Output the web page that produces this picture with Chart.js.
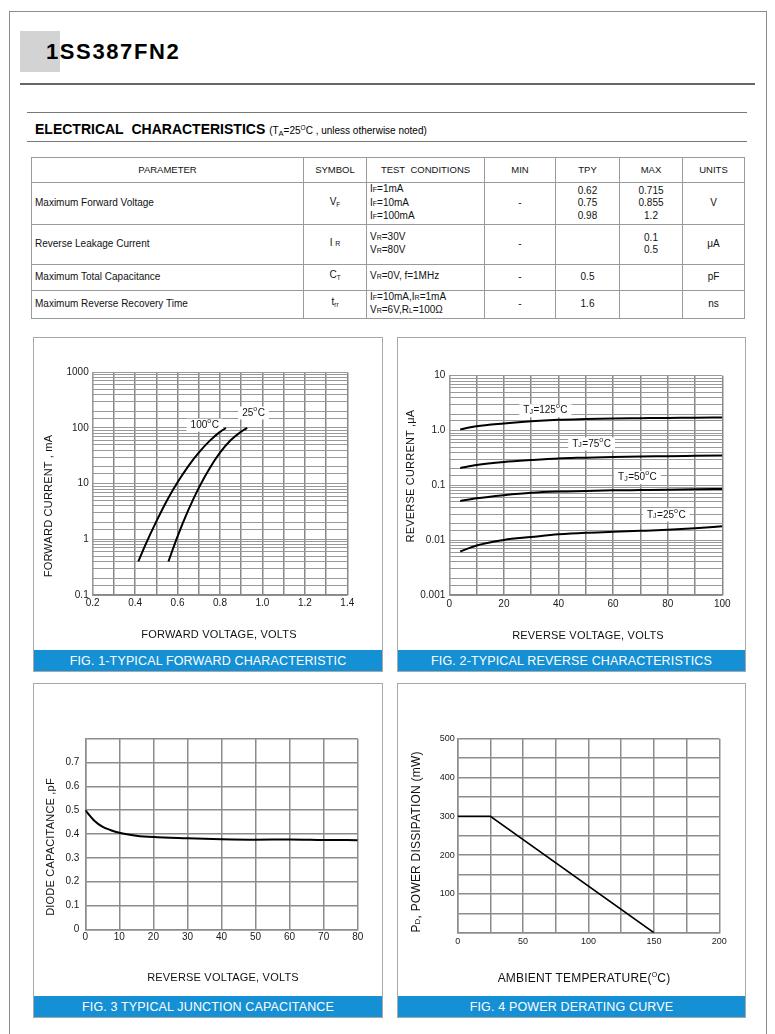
<!DOCTYPE html>
<html><head><meta charset="utf-8">
<script src="https://cdn.jsdelivr.net/npm/chart.js@4.4.1/dist/chart.umd.min.js"></script>
<style>
html,body{margin:0;padding:0;background:#fff}
body{width:775px;height:1034px;position:relative;overflow:hidden;font-family:"Liberation Sans",Arial,sans-serif;color:#111}
.a{position:absolute}
.hl{position:absolute;height:1px;background:#777}
.panel{position:absolute;border:1px solid #a8a8a8;box-sizing:border-box;background:#fff}
.cap{position:absolute;left:0;right:0;bottom:0;height:21px;line-height:22px;background:#1590d4;color:#fff;text-align:center;font-size:12.5px;letter-spacing:0.15px;white-space:nowrap}
canvas{position:absolute}
.t{position:absolute;white-space:nowrap;font-size:11px;color:#111;letter-spacing:0.2px}
.rot{transform:translate(-50%,-50%) rotate(-90deg)}
.ctr{transform:translate(-50%,-50%)}
table{border-collapse:collapse;table-layout:fixed;font-size:10px;color:#111}
td{border:1px solid #9a9a9a;padding:0;vertical-align:middle;text-align:center;line-height:12.5px}
td.l{text-align:left;padding-left:3px}
.s{font-size:7px}
sub{font-size:6.5px;vertical-align:-2px}
</style></head><body>

<!-- page frame & header -->
<div class="a" style="left:9px;top:11px;width:758px;height:1040px;border:1px solid #8c8c8c;box-sizing:border-box"></div>
<div class="a" style="left:20px;top:31px;width:40px;height:41px;background:#d3d3d3"></div>
<div class="a" style="left:46px;top:41px;font-size:22px;line-height:22px;font-weight:bold;letter-spacing:1.6px;color:#000">1SS387FN2</div>
<div class="hl" style="left:20px;top:83px;width:735px;height:1.5px;background:#666"></div>
<div class="hl" style="left:27px;top:112px;width:720px;background:#777"></div>
<div class="a" style="left:35px;top:121px;font-size:14px;line-height:14px;font-weight:bold;color:#000;white-space:nowrap">ELECTRICAL&nbsp; CHARACTERISTICS <span style="font-size:10px;font-weight:normal">(T<sub style="font-size:7.5px">A</sub>=25<sup style="font-size:6.5px">O</sup>C , unless otherwise noted)</span></div>
<div class="hl" style="left:27px;top:141px;width:720px;background:#777"></div>

<!-- table -->
<div class="a" style="left:31px;top:157px">
<table style="width:713px">
<colgroup><col style="width:272px"><col style="width:63px"><col style="width:118px"><col style="width:71px"><col style="width:64px"><col style="width:63px"><col style="width:62px"></colgroup>
<tr style="height:25px;font-size:9.5px"><td>PARAMETER</td><td>SYMBOL</td><td>TEST&nbsp; CONDITIONS</td><td>MIN</td><td>TPY</td><td>MAX</td><td>UNITS</td></tr>
<tr style="height:40px"><td class="l">Maximum Forward Voltage</td><td>V<sub>F</sub></td><td class="l">I<span class="s">F</span>=1mA<br>I<span class="s">F</span>=10mA<br>I<span class="s">F</span>=100mA</td><td>-</td><td>0.62<br>0.75<br>0.98</td><td>0.715<br>0.855<br>1.2</td><td>V</td></tr>
<tr style="height:40px"><td class="l">Reverse Leakage Current</td><td>I <span class="s">R</span></td><td class="l">V<span class="s">R</span>=30V<br>V<span class="s">R</span>=80V</td><td>-</td><td></td><td>0.1<br>0.5</td><td>μA</td></tr>
<tr style="height:26px"><td class="l">Maximum Total Capacitance</td><td>C<sub>T</sub></td><td class="l">V<span class="s">R</span>=0V, f=1MHz</td><td>-</td><td>0.5</td><td></td><td>pF</td></tr>
<tr style="height:26px"><td class="l">Maximum Reverse Recovery Time</td><td>t<sub>rr</sub></td><td class="l">I<span class="s">F</span>=10mA,I<span class="s">R</span>=1mA<br>V<span class="s">R</span>=6V,R<span class="s">L</span>=100Ω</td><td>-</td><td>1.6</td><td></td><td>ns</td></tr>
</table></div>

<!-- panels -->
<div class="panel" style="left:33px;top:337px;width:350px;height:335px"><div class="cap">FIG. 1-TYPICAL FORWARD CHARACTERISTIC</div></div>
<div class="panel" style="left:397px;top:337px;width:349px;height:335px"><div class="cap">FIG. 2-TYPICAL REVERSE CHARACTERISTICS</div></div>
<div class="panel" style="left:33px;top:683px;width:350px;height:335px"><div class="cap">FIG. 3 TYPICAL JUNCTION CAPACITANCE</div></div>
<div class="panel" style="left:397px;top:683px;width:349px;height:335px"><div class="cap">FIG. 4 POWER DERATING CURVE</div></div>

<canvas id="c1" width="348" height="312" style="left:34px;top:338px"></canvas>
<canvas id="c2" width="347" height="312" style="left:398px;top:338px"></canvas>
<canvas id="c3" width="348" height="312" style="left:34px;top:684px"></canvas>
<canvas id="c4" width="347" height="312" style="left:398px;top:684px"></canvas>

<!-- axis titles -->
<div class="t rot" style="left:48px;top:506px">FORWARD CURRENT , mA</div>
<div class="t ctr" style="left:219px;top:634px">FORWARD VOLTAGE, VOLTS</div>
<div class="t rot" style="left:410px;top:476px">REVERSE CURRENT ,μA</div>
<div class="t ctr" style="left:588px;top:635px">REVERSE VOLTAGE, VOLTS</div>
<div class="t rot" style="left:50px;top:847px">DIODE CAPACITANCE ,pF</div>
<div class="t ctr" style="left:223px;top:977px">REVERSE VOLTAGE, VOLTS</div>
<div class="t rot" style="left:416px;top:842px;font-size:12px">P<span style="font-size:8px">D</span>, POWER DISSIPATION (mW)</div>
<div class="t ctr" style="left:584px;top:978px;font-size:12px">AMBIENT TEMPERATURE(<sup style="font-size:7px">O</sup>C)</div>

<script>
// ---------------- DATA ----------------
// Fig.1 forward characteristic (V, mA)
const fig1VoltsT100   = [0.415, 0.45, 0.50, 0.55, 0.60, 0.65, 0.70, 0.75, 0.80, 0.828];
const fig1CurrentT100 = [0.4,   0.82, 2.1,  5.0,  10.6, 20.5, 36,   58,   85,   100];
const fig1VoltsT25    = [0.557, 0.60, 0.65, 0.70, 0.75, 0.80, 0.85, 0.90, 0.928];
const fig1CurrentT25  = [0.4,   1.13, 3.3,  8.4,  18.6, 36,   60,   86,   100];
const fig1XTickLabels = ['0.2','0.4','0.6','0.8','1.0','1.2','1.4'];
const fig1YTickLabels = ['0.1','1','10','100','1000'];

// Fig.2 reverse characteristics (V, uA)
const fig2Volts   = [4, 10, 20, 30, 40, 50, 60, 70, 80, 90, 100];
const fig2IrT125  = [1.05, 1.20, 1.35, 1.48, 1.57, 1.62, 1.66, 1.68, 1.70, 1.71, 1.73];
const fig2IrT75   = [0.207, 0.235, 0.267, 0.290, 0.310, 0.320, 0.330, 0.336, 0.340, 0.345, 0.350];
const fig2IrT50   = [0.052, 0.058, 0.066, 0.073, 0.077, 0.079, 0.081, 0.082, 0.083, 0.085, 0.086];
const fig2IrT25   = [0.0062, 0.0080, 0.0101, 0.0114, 0.0128, 0.0137, 0.0142, 0.0148, 0.0155, 0.0165, 0.0179];
const fig2XTickLabels = ['0','20','40','60','80','100'];
const fig2YTickLabels = ['0.001','0.01','0.1','1.0','10'];

// Fig.3 junction capacitance (V, pF)
const fig3Volts = [0, 2.5, 5, 7.5, 10, 15, 20, 30, 40, 50, 60, 70, 80];
const fig3Cap   = [0.5, 0.458, 0.431, 0.416, 0.405, 0.393, 0.387, 0.382, 0.378, 0.376, 0.377, 0.375, 0.374];
const fig3XTickLabels = ['0','10','20','30','40','50','60','70','80'];
const fig3YTickLabels = ['0','0.1','0.2','0.3','0.4','0.5','0.6','0.7'];

// Fig.4 power derating (degC, mW)
const fig4Temp  = [0, 25, 150];
const fig4Power = [300, 300, 0];
const fig4XTickLabels = ['0','50','100','150','200'];
const fig4YTickLabels = ['100','200','300','400','500'];

// log-paper grid significands per decade
const logGridSignificands = [1, 1.5, 2, 3, 4, 5, 6, 7, 8, 9];

// curve labels (data coordinates)
const fig1CurveLabels = [
  {parts:['100',{sup:'o'},'C'], x:0.728, y:112},
  {parts:['25',{sup:'o'},'C'],  x:0.958, y:186}
];
const fig2CurveLabels = [
  {parts:['T',{sub:'J'},'=125',{sup:'o'},'C'], x:35.2, y:2.3},
  {parts:['T',{sub:'J'},'=75',{sup:'o'},'C'],  x:52.1, y:0.57},
  {parts:['T',{sub:'J'},'=50',{sup:'o'},'C'],  x:68.9, y:0.138},
  {parts:['T',{sub:'J'},'=25',{sup:'o'},'C'],  x:79.5, y:0.0288}
];

// ---------------- HELPERS ----------------
const FONT = '"Liberation Sans", Arial, sans-serif';
function pts(xs, ys){ return xs.map((v,i)=>({x:v, y:ys[i]})); }
function logGrid(min, max){
  const out=[];
  for(let e=Math.round(Math.log10(min)); e<Math.round(Math.log10(max)); e++){
    logGridSignificands.forEach(s=>out.push(+(s*Math.pow(10,e)).toPrecision(6)));
  }
  out.push(max);
  return out;
}
function labelFor(list, value){
  const hit = list.find(l => Math.abs(parseFloat(l) - value) < 1e-9*Math.max(1,Math.abs(value)) );
  return hit === undefined ? '' : hit;
}

const curveLabelPlugin = {
  id:'curveLabels',
  beforeDatasetsDraw(chart, args, opts){
    const items = opts.items || [];
    const ctx = chart.ctx, xs = chart.scales.x, ys = chart.scales.y;
    const big = opts.size || 10, small = Math.round(big*0.65);
    items.forEach(it=>{
      const cx = xs.getPixelForValue(it.x), cy = ys.getPixelForValue(it.y);
      let w = 0;
      const segs = it.parts.map(p=>{
        const isObj = typeof p === 'object';
        const txt = isObj ? (p.sup||p.sub) : p;
        const sz = isObj ? small : big;
        ctx.font = sz + 'px ' + FONT;
        const sw = ctx.measureText(txt).width;
        const seg = {txt, sz, w:sw, dy: isObj ? (p.sup ? -big*0.42 : big*0.12) : 0};
        w += sw + (isObj ? 0.5 : 0);
        return seg;
      });
      ctx.save();
      ctx.fillStyle = '#fff';
      ctx.fillRect(cx - w/2 - 4, cy - big*0.65, w + 8, big*1.3);
      ctx.fillStyle = '#111';
      ctx.textBaseline = 'middle';
      let x0 = cx - w/2;
      segs.forEach(s=>{
        ctx.font = s.sz + 'px ' + FONT;
        ctx.fillText(s.txt, x0, cy + s.dy);
        x0 += s.w + (s.sz===small ? 0.5 : 0);
      });
      ctx.restore();
    });
  }
};

// canvas box (page coords) + plot area (page coords)
function makeChart(id, box, plot, cfg){
  const YW = 40, XH = 22;
  const pad = {
    left: plot.l - box.l - YW,
    top: plot.t - box.t,
    right: box.l + box.w - plot.r,
    bottom: box.t + box.h - plot.b - XH
  };
  const tickFont = {family: FONT, size: cfg.tickSize || 10};
  const grid = (c, lw) => ({color:c, lineWidth:lw, drawTicks:false});
  return new Chart(document.getElementById(id), {
    type:'line',
    data:{datasets: cfg.datasets.map(d=>({
      data:d.data, borderColor:'#000', borderWidth:d.bw||2, pointRadius:0, fill:false,
      cubicInterpolationMode: d.straight ? 'default' : 'monotone', tension: d.straight ? 0 : 0.4
    }))},
    options:{
      responsive:false, animation:false, devicePixelRatio:1, events:[],
      layout:{padding:pad},
      plugins:{legend:{display:false}, tooltip:{enabled:false}, curveLabels:{items:cfg.labels||[], size:10}},
      scales:{
        x:{
          type:'linear', min:cfg.x.min, max:cfg.x.max,
          afterFit: s=>{ s.height = XH; },
          grid: grid(cfg.x.gridColor||'#8a8a8a', cfg.x.gridWidth||1.5),
          border:{display:true, color:cfg.x.gridColor||'#8a8a8a', width:cfg.x.gridWidth||1.5},
          ticks:{stepSize:cfg.x.step, autoSkip:false, maxRotation:0, padding:cfg.x.pad||2, color:'#1a1a1a', font:tickFont,
            callback:(v)=>labelFor(cfg.x.labels, v)}
        },
        y:{
          type: cfg.y.log ? 'logarithmic' : 'linear', min:cfg.y.min, max:cfg.y.max,
          afterFit: s=>{ s.width = YW; },
          afterBuildTicks: cfg.y.log ? (s=>{ s.ticks = logGrid(cfg.y.min, cfg.y.max).map(v=>({value:v})); }) : undefined,
          grid: grid(cfg.y.gridColor||'#8a8a8a', cfg.y.gridWidth||1.5),
          border:{display:true, color:cfg.y.gridColor||'#8a8a8a', width:cfg.y.gridWidth||1.5},
          ticks:{stepSize:cfg.y.step, autoSkip:false, padding:cfg.y.pad||4, color:'#1a1a1a', font:tickFont,
            callback:(v)=>labelFor(cfg.y.labels, v)}
        }
      }
    },
    plugins:[curveLabelPlugin]
  });
}

Chart.defaults.font.family = FONT;

makeChart('c1', {l:34,t:338,w:348,h:312}, {l:92.7,t:372.3,r:347.3,b:595}, {
  x:{min:0.2,max:1.4,step:0.1,labels:fig1XTickLabels,gridColor:'#888',gridWidth:1.5,pad:2},
  y:{log:true,min:0.1,max:1000,labels:fig1YTickLabels,gridColor:'#999',gridWidth:1,pad:4},
  datasets:[{data:pts(fig1VoltsT100,fig1CurrentT100)},{data:pts(fig1VoltsT25,fig1CurrentT25)}],
  labels:fig1CurveLabels
});
makeChart('c2', {l:398,t:338,w:347,h:312}, {l:449.3,t:375.7,r:722.3,b:595}, {
  x:{min:0,max:100,step:10,labels:fig2XTickLabels,gridColor:'#888',gridWidth:1.5,pad:3},
  y:{log:true,min:0.001,max:10,labels:fig2YTickLabels,gridColor:'#999',gridWidth:1,pad:4},
  datasets:[{data:pts(fig2Volts,fig2IrT125)},{data:pts(fig2Volts,fig2IrT75)},{data:pts(fig2Volts,fig2IrT50)},{data:pts(fig2Volts,fig2IrT25)}],
  labels:fig2CurveLabels
});
makeChart('c3', {l:34,t:684,w:348,h:312}, {l:85.3,t:738.7,r:357.7,b:929.3}, {
  x:{min:0,max:80,step:10,labels:fig3XTickLabels,gridColor:'#8c8c8c',gridWidth:1.5,pad:2},
  y:{min:0,max:0.8,step:0.1,labels:fig3YTickLabels,gridColor:'#8c8c8c',gridWidth:1.5,pad:6},
  datasets:[{data:pts(fig3Volts,fig3Cap)}]
});
makeChart('c4', {l:398,t:684,w:347,h:312}, {l:457.7,t:738.7,r:719.3,b:932.7}, {
  tickSize:9,
  x:{min:0,max:200,step:25,labels:fig4XTickLabels,gridColor:'#8c8c8c',gridWidth:1.5,pad:3},
  y:{min:0,max:500,step:50,labels:fig4YTickLabels,gridColor:'#8c8c8c',gridWidth:1.5,pad:3},
  datasets:[{data:pts(fig4Temp,fig4Power),straight:true,bw:1.6}]
});
</script>
</body></html>
